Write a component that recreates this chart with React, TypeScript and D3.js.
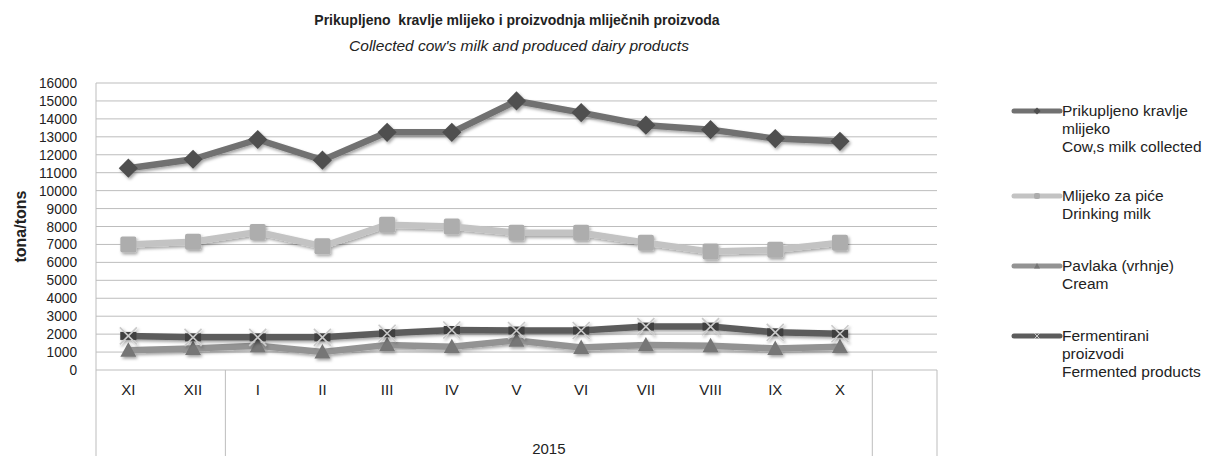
import React from "react";
import * as d3 from "d3";

const months = ["XI", "XII", "I", "II", "III", "IV", "V", "VI", "VII", "VIII", "IX", "X", ""];
const cowMilk = [11250, 11750, 12850, 11700, 13250, 13250, 15000, 14350, 13650, 13400, 12900, 12750];
const drinkingMilk = [7000, 7150, 7700, 6900, 8100, 8000, 7650, 7650, 7100, 6600, 6700, 7100];
const cream = [1100, 1200, 1350, 1000, 1400, 1300, 1650, 1250, 1400, 1350, 1200, 1300];
const fermented = [1900, 1820, 1820, 1820, 2050, 2230, 2200, 2200, 2420, 2420, 2100, 2020];
const yTicks = d3.range(0, 16001, 1000);
const yearLabel = "2015";

const FONT = "'Liberation Sans', Arial, sans-serif";

const series = [
  { key: "cow", values: cowMilk, line: "#717171", marker: "diamond", mfill: "#4f4f4f", label: ["Prikupljeno kravlje", "mlijeko", "Cow,s milk collected"] },
  { key: "drink", values: drinkingMilk, line: "#c3c3c3", marker: "square", mfill: "#adadad", label: ["Mlijeko za piće", "Drinking milk"] },
  { key: "cream", values: cream, line: "#939393", marker: "triangle", mfill: "#767676", label: ["Pavlaka (vrhnje)", "Cream"] },
  { key: "ferm", values: fermented, line: "#5c5c5c", marker: "x", mfill: "#c9c9c9", label: ["Fermentirani", "proizvodi", "Fermented products"] },
];

function Marker({ type, x, y, fill, s }: { type: string; x: number; y: number; fill: string; s: number }) {
  if (type === "diamond") {
    const r = s * 0.6;
    return <path d={`M${x},${y - r}L${x + r},${y}L${x},${y + r}L${x - r},${y}Z`} fill={fill} />;
  }
  if (type === "square") {
    const r = s / 2;
    return <rect x={x - r} y={y - r} width={s} height={s} rx={2} fill={fill} />;
  }
  if (type === "triangle") {
    const r = s / 2;
    return <path d={`M${x},${y - r}L${x + r},${y + r * 0.8}L${x - r},${y + r * 0.8}Z`} fill={fill} />;
  }
  const r = s / 2;
  return (
    <g>
      <rect x={x - r * 0.95} y={y - 4} width={r * 1.9} height={8} fill="#3f3f3f" />
      <path d={`M${x - r},${y - r}L${x + r},${y + r}M${x + r},${y - r}L${x - r},${y + r}`} stroke={fill} strokeWidth={1.6} />
    </g>
  );
}

export default function App() {
  const W = 1207, H = 456;
  const left = 96, right = 937, top = 83, bottom = 370;
  const x = d3.scaleBand<string>().domain(months.map((m, i) => i + "")).range([left, right]);
  const y = d3.scaleLinear().domain([0, 16000]).range([bottom, top]);
  const cx = (i: number) => (x(i + "") as number) + x.bandwidth() / 2;
  const line = d3.line<number>().x((_, i) => cx(i)).y((v) => y(v));
  const grid = "#bdbdbd";
  const sep1 = x("2") as number;
  const sep2 = x("12") as number;

  const legendY = [111, 196, 266, 336];

  return (
    <svg width={W} height={H} style={{ position: "absolute", left: 0, top: 0, background: "#fff" }}>
      <defs>
        <filter id="sh" x="-20%" y="-20%" width="140%" height="160%">
          <feDropShadow dx="1.5" dy="2" stdDeviation="1.5" floodColor="#000" floodOpacity="0.35" />
        </filter>
      </defs>
      <text x={517} y={25} textAnchor="middle" fontFamily={FONT} fontWeight="bold" fontSize={14} fill="#222" style={{ whiteSpace: "pre" }}>
        {"Prikupljeno  kravlje mlijeko i proizvodnja mliječnih proizvoda"}
      </text>
      <text x={519} y={51} textAnchor="middle" fontFamily={FONT} fontStyle="italic" fontSize={15.5} fill="#222">
        Collected cow's milk and produced dairy products
      </text>

      {yTicks.map((t) => (
        <line key={t} x1={left} x2={right} y1={y(t)} y2={y(t)} stroke={grid} strokeWidth={1} />
      ))}
      <line x1={left} x2={left} y1={top} y2={H} stroke={grid} />
      <line x1={sep1} x2={sep1} y1={bottom} y2={H} stroke={grid} />
      <line x1={sep2} x2={sep2} y1={bottom} y2={H} stroke={grid} />
      <line x1={right} x2={right} y1={bottom} y2={H} stroke={grid} />

      {yTicks.map((t) => (
        <text key={t} x={77} y={y(t) + 5} textAnchor="end" fontFamily={FONT} fontSize={15} textLength={String(t).length * 7.6} lengthAdjust="spacingAndGlyphs" fill="#222">
          {t}
        </text>
      ))}
      <text transform={`translate(26,${(top + bottom) / 2}) rotate(-90)`} textAnchor="middle" fontFamily={FONT} fontWeight="bold" fontSize={16} fill="#222">
        tona/tons
      </text>

      {months.map((m, i) => (
        <text key={i} x={cx(i)} y={395} textAnchor="middle" fontFamily={FONT} fontSize={15} fill="#222">
          {m}
        </text>
      ))}
      <text x={(sep1 + sep2) / 2} y={454} textAnchor="middle" fontFamily={FONT} fontSize={15} fill="#222">
        {yearLabel}
      </text>

      {series.map((s) => (
        <g key={s.key} filter="url(#sh)">
          <path d={line(s.values) || ""} fill="none" stroke={s.line} strokeWidth={6.5} strokeLinejoin="round" strokeLinecap="round" />
          {s.values.map((v, i) => (
            <Marker key={i} type={s.marker} x={cx(i)} y={y(v)} fill={s.mfill} s={s.marker === "x" ? 17 : 16} />
          ))}
        </g>
      ))}

      {series.map((s, k) => (
        <g key={s.key}>
          <line x1={1014} x2={1060} y1={legendY[k]} y2={legendY[k]} stroke={s.line} strokeWidth={5} strokeLinecap="round" />
          {s.marker === "x" ? (
            <path d={`M1034,${legendY[k] - 3}L1040,${legendY[k] + 3}M1040,${legendY[k] - 3}L1034,${legendY[k] + 3}`} stroke="#c9c9c9" strokeWidth={1} />
          ) : (
            <Marker type={s.marker} x={1037} y={legendY[k]} fill={s.mfill} s={6} />
          )}
          {s.label.map((l, j) => (
            <text key={j} x={1062} y={legendY[k] + 5 + j * 18} fontFamily={FONT} fontSize={15.5} fill="#222">
              {l}
            </text>
          ))}
        </g>
      ))}
    </svg>
  );
}
